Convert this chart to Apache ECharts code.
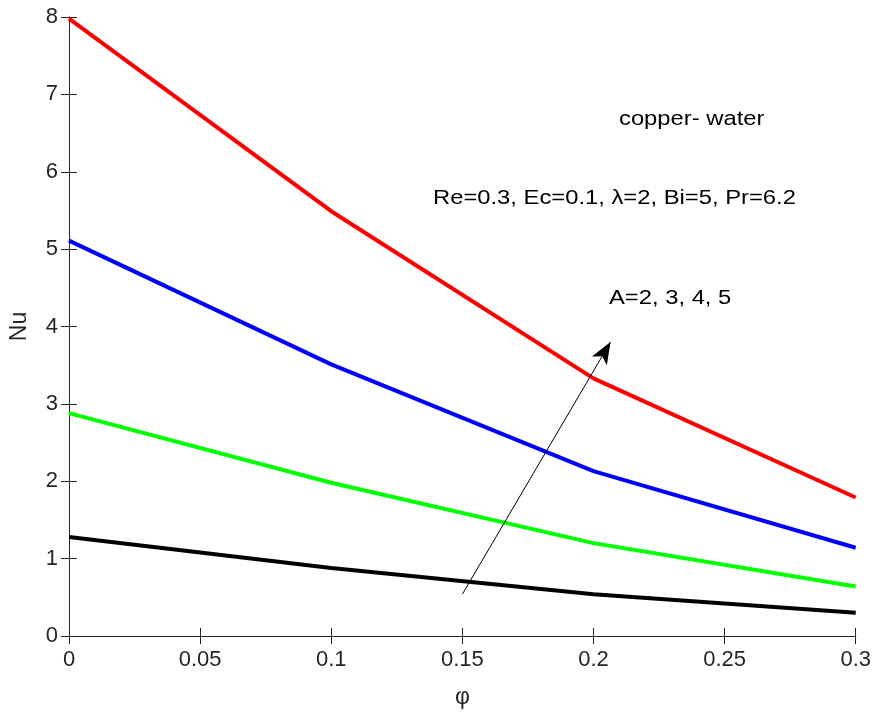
<!DOCTYPE html>
<html>
<head>
<meta charset="utf-8">
<style>
  html, body { margin: 0; padding: 0; background: #fff; }
  #chart { width: 874px; height: 714px; }
</style>
<script src="https://cdn.jsdelivr.net/npm/echarts@6/dist/echarts.min.js"></script>
</head>
<body>
<div id="chart"></div>
<script>
// Volume fraction of nanoparticles
const phi = [0, 0.1, 0.2, 0.3];
// Nusselt number for A = 2, 3, 4, 5
const nuA2 = [1.28, 0.88, 0.54, 0.30];
const nuA3 = [2.88, 1.98, 1.20, 0.64];
const nuA4 = [5.11, 3.51, 2.13, 1.14];
const nuA5 = [7.98, 5.49, 3.33, 1.79];
// Direction of increasing A (start and end of the arrow)
const arrowFrom = [0.150, 0.54];
const arrowTo = [0.2065, 3.80];

const FONT = 'Liberation Sans, Arial, sans-serif';
const AXIS = '#262626';

const pairs = (ys) => phi.map((x, i) => [x, ys[i]]);

const chart = echarts.init(document.getElementById('chart'));

const xCommon = {
  type: 'value', min: 0, max: 0.3, interval: 0.05,
  axisLine: { show: true, lineStyle: { color: AXIS, width: 1 } },
  axisTick: { show: true, inside: true, length: 8, lineStyle: { color: AXIS, width: 1 } },
  splitLine: { show: false }
};
const yCommon = {
  type: 'value', min: 0, max: 8, interval: 1,
  axisLine: { show: true, lineStyle: { color: AXIS, width: 1 } },
  axisTick: { show: true, inside: true, length: 8, lineStyle: { color: AXIS, width: 1 } },
  splitLine: { show: false }
};

function curve(name, ys, color) {
  return {
    name, type: 'line', data: pairs(ys), showSymbol: false, symbol: 'none',
    lineStyle: { color, width: 4 }, itemStyle: { color },
    silent: true, animation: false, z: 3
  };
}

function note(text, left, top) {
  return {
    type: 'text', left, top, scaleX: 1.16,
    style: { text, fontFamily: FONT, fontSize: 20.5, fill: '#000' }
  };
}

chart.setOption({
  backgroundColor: '#fff',
  animation: false,
  grid: { left: 68, right: 18, top: 17, bottom: 76, containLabel: false },
  xAxis: [
    Object.assign({}, xCommon, {
      position: 'bottom',
      name: 'φ', nameLocation: 'middle', nameGap: 50,
      nameTextStyle: { fontFamily: FONT, fontSize: 23, color: AXIS },
      axisLabel: { show: true, margin: 13, fontFamily: FONT, fontSize: 22, color: AXIS,
        formatter: v => String(+v.toFixed(2)) }
    }),
    Object.assign({}, xCommon, { position: 'top', axisLabel: { show: false } })
  ],
  yAxis: [
    Object.assign({}, yCommon, {
      position: 'left',
      name: 'Nu', nameLocation: 'middle', nameGap: 38,
      nameTextStyle: { fontFamily: FONT, fontSize: 23, color: AXIS },
      axisLabel: { show: true, margin: 11, fontFamily: FONT, fontSize: 22, color: AXIS }
    }),
    Object.assign({}, yCommon, { position: 'right', axisLabel: { show: false } })
  ],
  series: [
    curve('A=2', nuA2, '#000000'),
    curve('A=3', nuA3, '#00ff00'),
    curve('A=4', nuA4, '#0000ff'),
    Object.assign(curve('A=5', nuA5, '#ff0000'), {
      markLine: {
        silent: true, animation: false,
        symbol: ['none', 'arrow'], symbolSize: [13, 22],
        label: { show: false },
        lineStyle: { color: '#000', width: 1, type: 'solid' },
        data: [[{ coord: arrowFrom }, { coord: arrowTo }]]
      }
    })
  ],
  graphic: [
    note('copper- water', 619, 109),
    note('Re=0.3, Ec=0.1, λ=2, Bi=5, Pr=6.2', 433, 188),
    note('A=2, 3, 4, 5', 609, 288)
  ]
});
</script>
</body>
</html>
